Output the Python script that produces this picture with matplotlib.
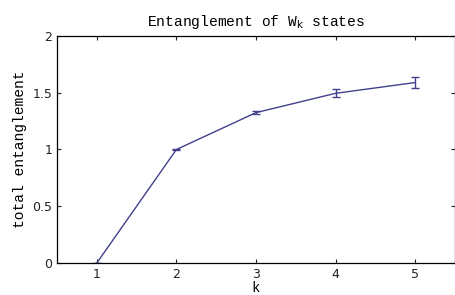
import matplotlib
matplotlib.use("Agg")
import matplotlib.pyplot as plt

k = [1, 2, 3, 4, 5]
ent = [0.0, 1.0, 1.325, 1.495, 1.59]
err = [0.0, 0.005, 0.015, 0.035, 0.045]
xticks = [1, 2, 3, 4, 5]
yticks = [0, 0.5, 1, 1.5, 2]
yticklabels = ["0", "0.5", "1", "1.5", "2"]

fig = plt.figure(figsize=(4.56, 2.95), dpi=100)
ax = fig.add_axes([0.125, 0.1085, 0.873, 0.7695])
ax.errorbar(k, ent, yerr=err, color="#40408c", linewidth=1.0, capsize=3, elinewidth=1.0, capthick=1.0)
ax.set_xlim(0.5, 5.5)
ax.set_ylim(0, 2)
ax.set_xticks(xticks)
ax.set_yticks(yticks)
ax.set_yticklabels(yticklabels)
ax.tick_params(direction="in", top=True, right=True, labelsize=9, length=3, colors="#222222")
for s in ax.spines.values():
    s.set_linewidth(0.9)
mono = ["Liberation Mono", "DejaVu Sans Mono"]
ax.set_title("Entanglement of W$_{\\mathrm{k}}$ states", fontsize=10.5, family=mono, pad=7)
ax.set_xlabel("k", fontsize=10, family=mono, labelpad=0)
ax.set_ylabel("total entanglement", fontsize=10.5, family=mono, labelpad=4)
fig.savefig("out.png", dpi=100)
